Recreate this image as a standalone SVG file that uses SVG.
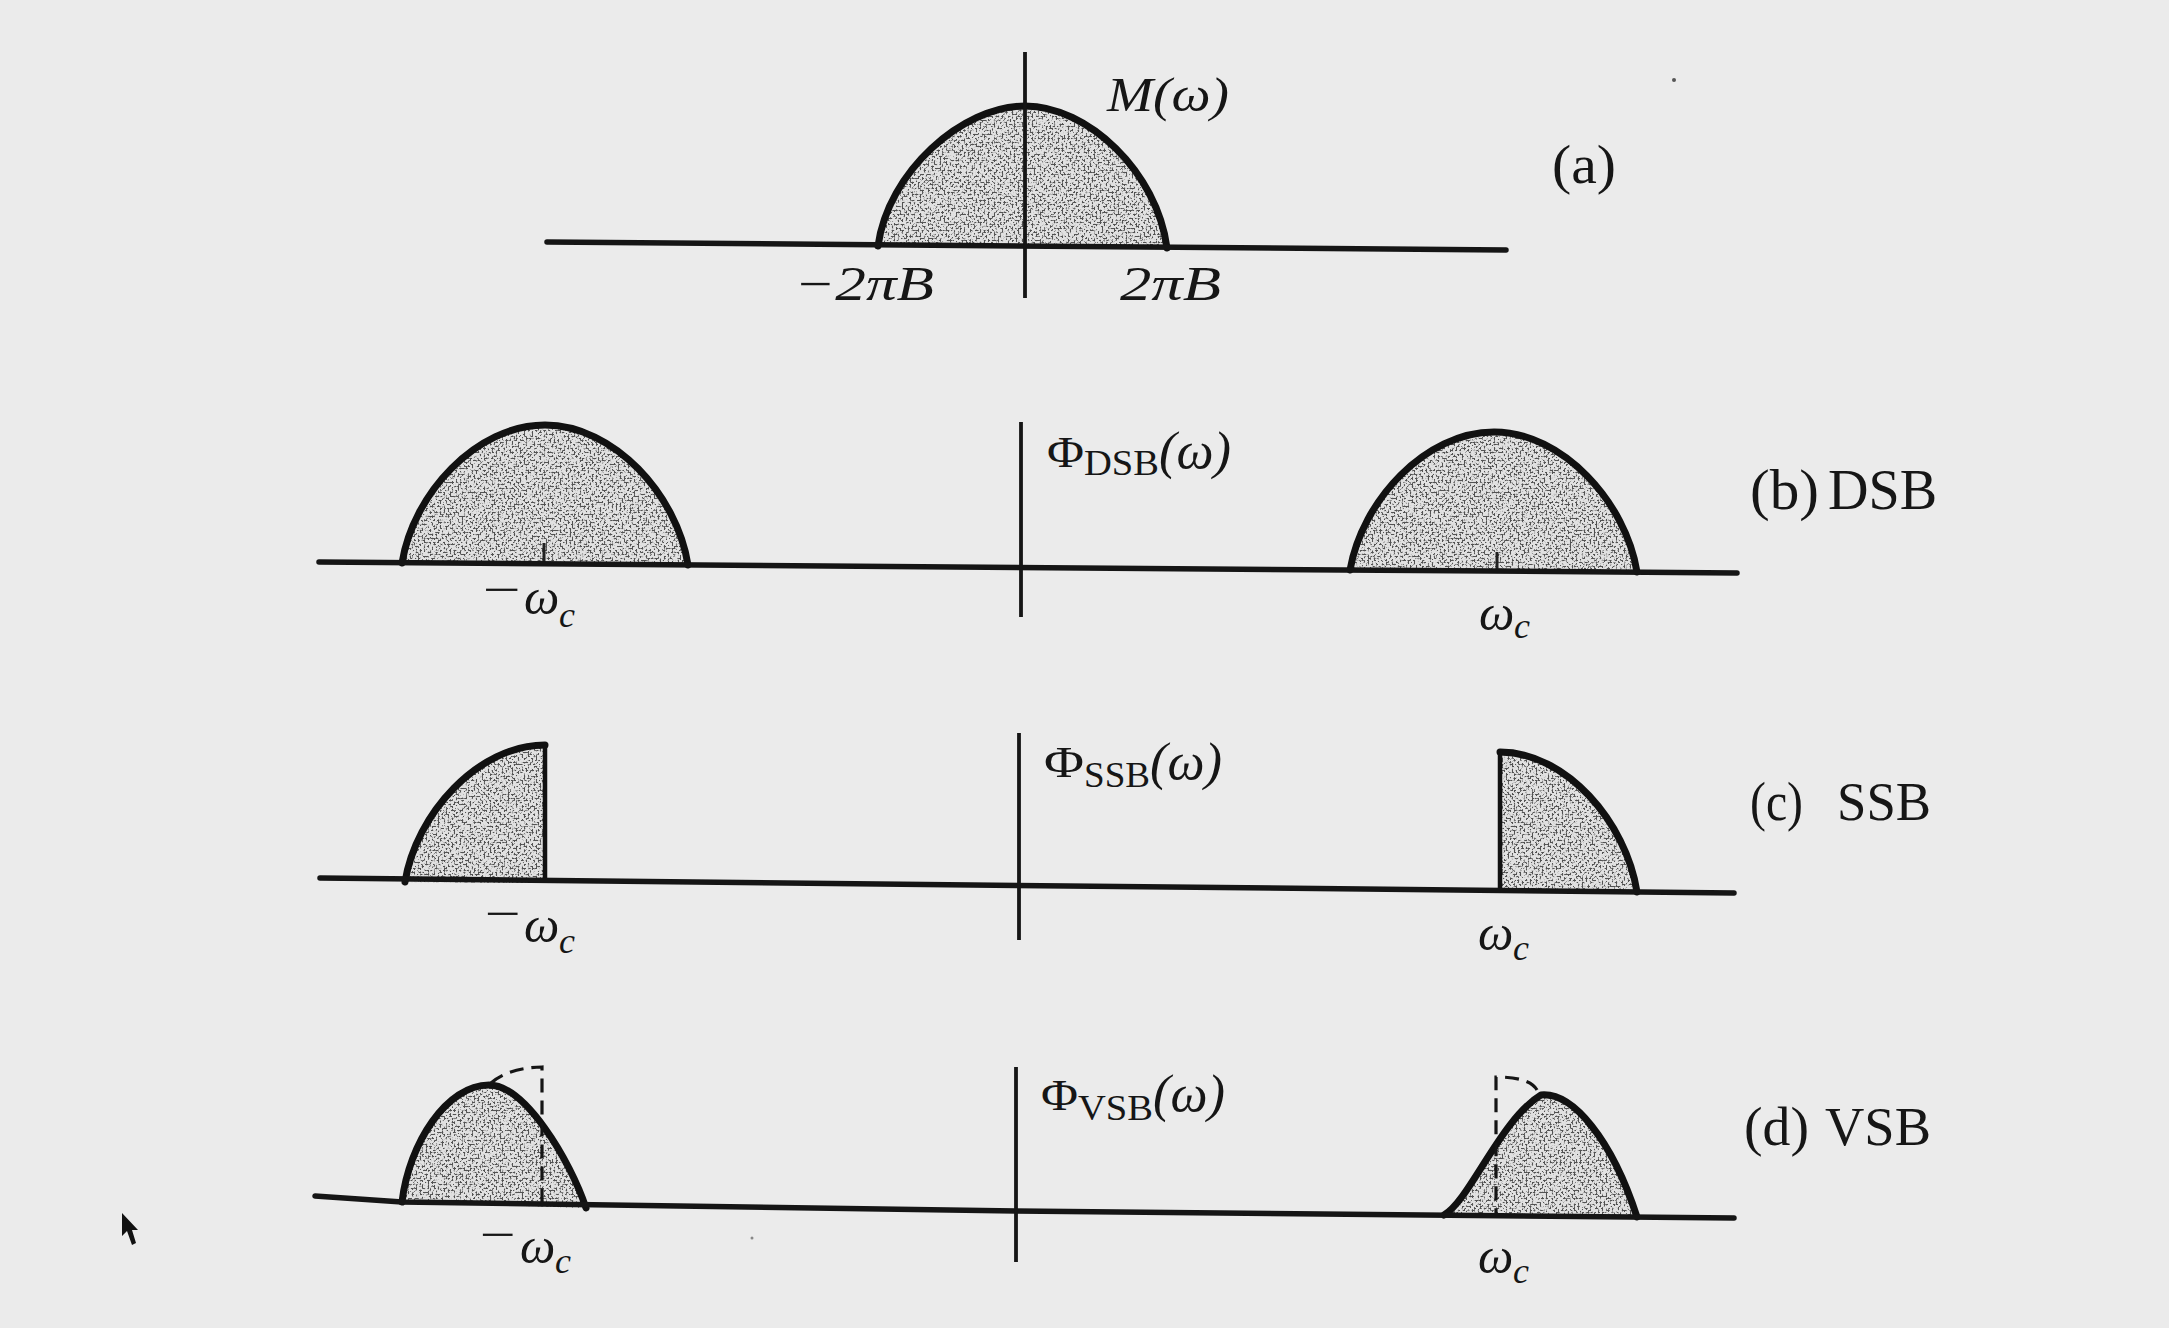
<svg xmlns="http://www.w3.org/2000/svg" width="2169" height="1328" viewBox="0 0 2169 1328">
<style>
.bg{fill:#ebebeb}
.base{fill:none;stroke:#151515;stroke-width:5.5;stroke-linecap:round;stroke-linejoin:round}
.axis{fill:none;stroke:#151515;stroke-width:3.8}
.tick{fill:none;stroke:#222;stroke-width:3}
.edge{fill:none;stroke:#111;stroke-width:7;stroke-linecap:round;stroke-linejoin:round}
.edgeThin{fill:none;stroke:#111;stroke-width:4.5}
.dash{fill:none;stroke:#151515;stroke-width:3.2;stroke-dasharray:14 8}
.fillBase{fill:#e2e2e2}
.fillDots{fill:#000;filter:url(#stip)}
.lbl{font-family:"Liberation Serif","Times New Roman",serif;fill:#161616}
.it{font-style:italic}
</style>
<defs>
<filter id="stip" x="0" y="0" width="1" height="1" color-interpolation-filters="sRGB">
<feTurbulence type="fractalNoise" baseFrequency="0.5" numOctaves="1" seed="11" result="n"/>
<feColorMatrix in="n" type="matrix" values="0 0 0 0 0.32  0 0 0 0 0.32  0 0 0 0 0.32  0 0 0 -7 3.55" result="d"/>
<feComposite in="d" in2="SourceGraphic" operator="in"/>
</filter>
</defs>
<rect class="bg" x="0" y="0" width="2169" height="1328"/>

<g id="panel-a">
<path class="fillBase" d="M878,246 C888,172 962,106 1025,106 C1088,106 1157,172 1167,248 Z"/>
<path class="fillDots" d="M878,246 C888,172 962,106 1025,106 C1088,106 1157,172 1167,248 Z"/>
<path class="edge" d="M878,246 C888,172 962,106 1025,106 C1088,106 1157,172 1167,248"/>
<text class="lbl it" x="1107" y="111" font-size="48" textLength="122" lengthAdjust="spacingAndGlyphs">M(ω)</text>
<text class="lbl" x="1552" y="183" font-size="54" textLength="64" lengthAdjust="spacingAndGlyphs">(a)</text>
<text class="lbl it" x="794" y="300" font-size="48" textLength="140" lengthAdjust="spacingAndGlyphs">−2πB</text>
<text class="lbl it" x="1120" y="300" font-size="48" textLength="101" lengthAdjust="spacingAndGlyphs">2πB</text>
</g>

<g id="panel-b">
<path class="fillBase" d="M402,563 C413,494 476,425 545,425 C614,425 677,495 688,565 Z"/>
<path class="fillDots" d="M402,563 C413,494 476,425 545,425 C614,425 677,495 688,565 Z"/>
<path class="edge" d="M402,563 C413,494 476,425 545,425 C614,425 677,495 688,565"/>
<path class="fillBase" d="M1350,570 C1362,501 1425,432 1494,432 C1563,432 1626,503 1637,572 Z"/>
<path class="fillDots" d="M1350,570 C1362,501 1425,432 1494,432 C1563,432 1626,503 1637,572 Z"/>
<path class="edge" d="M1350,570 C1362,501 1425,432 1494,432 C1563,432 1626,503 1637,572"/>
<line class="tick" x1="544" y1="543" x2="544" y2="564"/>
<line class="tick" x1="1497" y1="552" x2="1497" y2="571"/>
<text class="lbl" y="467" font-size="44"><tspan x="1047" textLength="37" lengthAdjust="spacingAndGlyphs">Φ</tspan><tspan x="1084" y="475" font-size="36" textLength="75" lengthAdjust="spacingAndGlyphs">DSB</tspan><tspan x="1159" y="468" font-size="52" class="it" textLength="72" lengthAdjust="spacingAndGlyphs">(ω)</tspan></text>
<text class="lbl" y="509" font-size="56"><tspan x="1750" textLength="69" lengthAdjust="spacingAndGlyphs">(b)</tspan><tspan x="1828" textLength="109" lengthAdjust="spacingAndGlyphs">DSB</tspan></text>
<text class="lbl it"><tspan x="483" y="605" font-size="46" font-style="normal" textLength="38" lengthAdjust="spacingAndGlyphs">−</tspan><tspan x="524" y="614" font-size="50">ω</tspan><tspan x="559" y="627" font-size="36">c</tspan></text>
<text class="lbl it"><tspan x="1479" y="630" font-size="50">ω</tspan><tspan x="1514" y="638" font-size="36">c</tspan></text>
</g>

<g id="panel-c">
<path class="fillBase" d="M405,882 C416,814 478,745 545,745 L545,883 Z"/>
<path class="fillDots" d="M405,882 C416,814 478,745 545,745 L545,883 Z"/>
<path class="edge" d="M405,882 C416,814 478,745 545,745"/>
<line class="edgeThin" x1="545" y1="745" x2="545" y2="883"/>
<path class="fillBase" d="M1500,892 L1500,752 C1566,752 1626,822 1637,892 Z"/>
<path class="fillDots" d="M1500,892 L1500,752 C1566,752 1626,822 1637,892 Z"/>
<path class="edge" d="M1500,752 C1566,752 1626,822 1637,892"/>
<line class="edgeThin" x1="1500" y1="752" x2="1500" y2="892"/>
<text class="lbl" y="777" font-size="44"><tspan x="1044" textLength="40" lengthAdjust="spacingAndGlyphs">Φ</tspan><tspan x="1084" y="787" font-size="36" textLength="66" lengthAdjust="spacingAndGlyphs">SSB</tspan><tspan x="1150" y="779" font-size="52" class="it" textLength="72" lengthAdjust="spacingAndGlyphs">(ω)</tspan></text>
<text class="lbl" y="820" font-size="55"><tspan x="1750" textLength="53" lengthAdjust="spacingAndGlyphs">(c)</tspan><tspan x="1837" textLength="94" lengthAdjust="spacingAndGlyphs">SSB</tspan></text>
<text class="lbl it"><tspan x="485" y="929" font-size="46" font-style="normal" textLength="36" lengthAdjust="spacingAndGlyphs">−</tspan><tspan x="524" y="942" font-size="50">ω</tspan><tspan x="559" y="953" font-size="36">c</tspan></text>
<text class="lbl it"><tspan x="1478" y="950" font-size="50">ω</tspan><tspan x="1513" y="960" font-size="36">c</tspan></text>
</g>

<g id="panel-d">
<path class="fillBase" d="M402,1202 C409,1143 447,1085 489,1085 C525,1085 570,1160 586,1208 Z"/>
<path class="fillDots" d="M402,1202 C409,1143 447,1085 489,1085 C525,1085 570,1160 586,1208 Z"/>
<path class="edge" d="M402,1202 C409,1143 447,1085 489,1085 C525,1085 570,1160 586,1208"/>
<path class="dash" d="M491,1083 Q508,1068 542,1067 L542,1205"/>
<path class="fillBase" d="M1444,1215 C1470,1200 1500,1120 1541,1095 C1573,1092 1612,1140 1637,1217 Z"/>
<path class="fillDots" d="M1444,1215 C1470,1200 1500,1120 1541,1095 C1573,1092 1612,1140 1637,1217 Z"/>
<path class="edge" d="M1444,1215 C1470,1200 1500,1120 1541,1095 C1573,1092 1612,1140 1637,1217"/>
<path class="dash" d="M1537,1090 Q1530,1077 1496,1077 L1496,1215"/>
<text class="lbl" y="1110" font-size="44"><tspan x="1041" textLength="37" lengthAdjust="spacingAndGlyphs">Φ</tspan><tspan x="1078" y="1120" font-size="36" textLength="75" lengthAdjust="spacingAndGlyphs">VSB</tspan><tspan x="1153" y="1111" font-size="52" class="it" textLength="72" lengthAdjust="spacingAndGlyphs">(ω)</tspan></text>
<text class="lbl" y="1145" font-size="55"><tspan x="1744" textLength="65" lengthAdjust="spacingAndGlyphs">(d)</tspan><tspan x="1825" textLength="106" lengthAdjust="spacingAndGlyphs">VSB</tspan></text>
<text class="lbl it"><tspan x="480" y="1250" font-size="46" font-style="normal" textLength="36" lengthAdjust="spacingAndGlyphs">−</tspan><tspan x="520" y="1263" font-size="50">ω</tspan><tspan x="555" y="1273" font-size="36">c</tspan></text>
<text class="lbl it"><tspan x="1478" y="1273" font-size="50">ω</tspan><tspan x="1513" y="1283" font-size="36">c</tspan></text>
</g>

<g id="connectors">
<line class="base" x1="547" y1="242" x2="1506" y2="250"/>
<line class="axis" x1="1025" y1="52" x2="1025" y2="298"/>
<line class="base" x1="319" y1="562" x2="1737" y2="573"/>
<line class="axis" x1="1021" y1="422" x2="1021" y2="617"/>
<line class="base" x1="320" y1="878" x2="1734" y2="893"/>
<line class="axis" x1="1019" y1="733" x2="1019" y2="940"/>
<polyline class="base" points="315,1196 402,1202 1016,1211 1734,1218"/>
<line class="axis" x1="1016" y1="1067" x2="1016" y2="1262"/>
</g>

<g id="marks">
<circle cx="1674" cy="80" r="2" fill="#555"/>
<circle cx="752" cy="1238" r="1.5" fill="#888"/>
<polygon points="122,1213 122,1236 127,1231 132,1245 136,1243 132,1230 138,1230" fill="#111"/>
</g>
</svg>
